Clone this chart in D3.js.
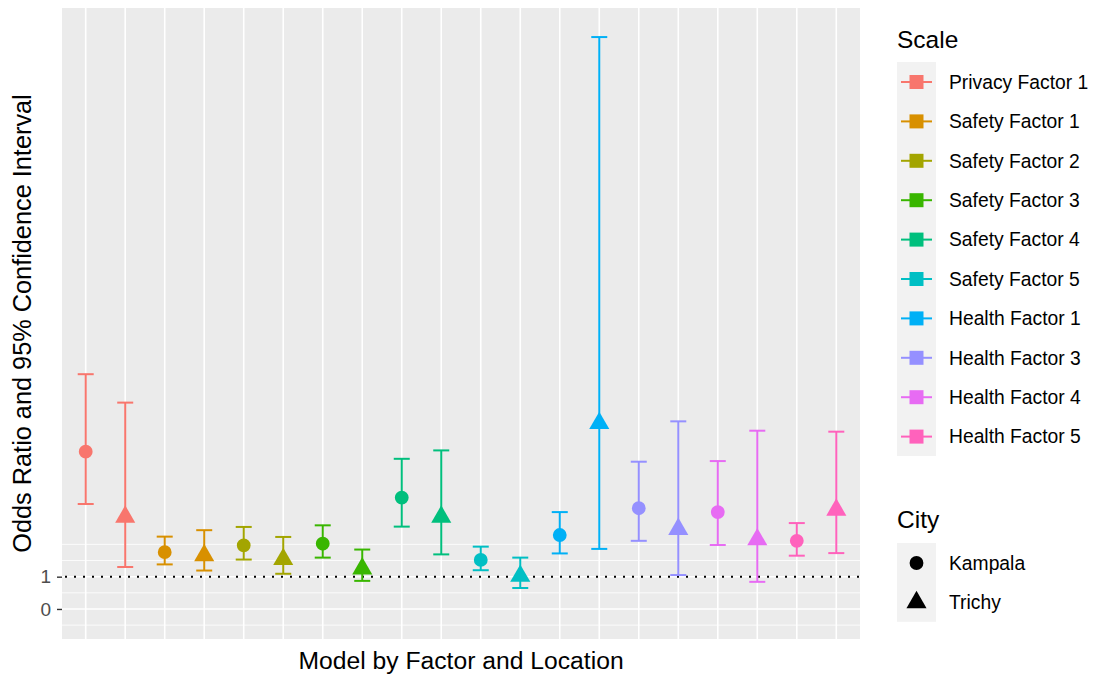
<!DOCTYPE html>
<html><head><meta charset="utf-8">
<script src="https://cdn.jsdelivr.net/npm/d3@7"></script>
<style>body{margin:0;background:#fff;} svg{display:block;font-family:"Liberation Sans",Arial,sans-serif;}</style>
</head><body>
<script>
const factors = ["Privacy Factor 1","Safety Factor 1","Safety Factor 2","Safety Factor 3","Safety Factor 4","Safety Factor 5","Health Factor 1","Health Factor 3","Health Factor 4","Health Factor 5"];
const colors = ["#F8766D","#D89000","#A3A500","#39B600","#00BF7D","#00BFC4","#00B0F6","#9590FF","#E76BF3","#FF62BC"];
const cities = ["Kampala","Trichy"];
const kampalaOR = [4.87,1.76,1.97,2.02,3.45,1.52,2.29,3.12,3.00,2.11];
const kampalaLo = [3.25,1.38,1.53,1.59,2.55,1.20,1.72,2.11,1.98,1.65];
const kampalaHi = [7.27,2.24,2.54,2.59,4.65,1.93,3.00,4.56,4.58,2.66];
const trichyOR  = [2.85,1.66,1.54,1.25,2.85,1.02,5.75,2.47,2.15,3.07];
const trichyLo  = [1.30,1.19,1.09,0.87,1.69,0.65,1.86,1.05,0.84,1.73];
const trichyHi  = [6.39,2.44,2.23,1.84,4.91,1.59,17.71,5.81,5.52,5.49];
const yTicks = [0,1];
const yMinor = [-0.5,0.5,1.5,2];
const yDomain = [-0.93,18.61];
const refLine = 1;

const rows = [];
factors.forEach((f,i)=>{
  rows.push({key:f+"|Kampala",factor:f,ci:i,city:"Kampala",or:kampalaOR[i],lo:kampalaLo[i],hi:kampalaHi[i]});
  rows.push({key:f+"|Trichy",factor:f,ci:i,city:"Trichy",or:trichyOR[i],lo:trichyLo[i],hi:trichyHi[i]});
});

const W=1093,H=677;
const P={l:62,r:860,t:8,b:639};
const svg=d3.select("body").append("svg").attr("width",W).attr("height",H);
svg.append("rect").attr("width",W).attr("height",H).attr("fill","#fff");

const x=d3.scalePoint().domain(rows.map(d=>d.key)).range([P.l,P.r]).padding(0.6);
const y=d3.scaleLinear().domain(yDomain).range([P.b,P.t]);
const color=d3.scaleOrdinal().domain(factors).range(colors);

svg.append("rect").attr("x",P.l).attr("y",P.t).attr("width",P.r-P.l).attr("height",P.b-P.t).attr("fill","#EBEBEB");
const g=svg.append("g");
g.selectAll(".ymin").data(yMinor).join("line").attr("x1",P.l).attr("x2",P.r).attr("y1",d=>y(d)).attr("y2",d=>y(d)).attr("stroke","#fff").attr("stroke-width",0.8);
g.selectAll(".ymaj").data(yTicks).join("line").attr("x1",P.l).attr("x2",P.r).attr("y1",d=>y(d)).attr("y2",d=>y(d)).attr("stroke","#fff").attr("stroke-width",1.6);
g.selectAll(".xmaj").data(rows).join("line").attr("x1",d=>x(d.key)).attr("x2",d=>x(d.key)).attr("y1",P.t).attr("y2",P.b).attr("stroke","#fff").attr("stroke-width",1.6);

// y axis
const yAxis=d3.axisLeft(y).tickValues(yTicks).tickSize(5).tickPadding(6).tickFormat(d3.format("d"));
const ya=svg.append("g").attr("transform",`translate(${P.l},0)`).call(yAxis);
ya.select(".domain").remove();
ya.selectAll("line").attr("stroke","#333").attr("stroke-width",1.4);
ya.selectAll("text").attr("fill","#4D4D4D").style("font-size","19px").style("font-family","'Liberation Sans',Arial,sans-serif");

// reference line
svg.append("line").attr("x1",P.l).attr("x2",P.r).attr("y1",y(refLine)).attr("y2",y(refLine))
  .attr("stroke","#000").attr("stroke-width",2).attr("stroke-dasharray","2,7").attr("stroke-dashoffset",-3);

// error bars
const cap=8;
const eb=svg.append("g").selectAll("g").data(rows).join("g").attr("stroke",d=>color(d.factor)).attr("stroke-width",2).attr("fill","none");
eb.append("line").attr("x1",d=>x(d.key)).attr("x2",d=>x(d.key)).attr("y1",d=>y(d.lo)).attr("y2",d=>y(d.hi));
eb.append("line").attr("x1",d=>x(d.key)-cap).attr("x2",d=>x(d.key)+cap).attr("y1",d=>y(d.lo)).attr("y2",d=>y(d.lo));
eb.append("line").attr("x1",d=>x(d.key)-cap).attr("x2",d=>x(d.key)+cap).attr("y1",d=>y(d.hi)).attr("y2",d=>y(d.hi));

// points
const triSize=175, circSize=150;
const shape=c=>c==="Kampala"?d3.symbol(d3.symbolCircle,circSize)():d3.symbol(d3.symbolTriangle,triSize)();
svg.append("g").selectAll("path").data(rows).join("path")
  .attr("transform",d=>`translate(${x(d.key)},${y(d.or)})`)
  .attr("d",d=>shape(d.city)).attr("fill",d=>color(d.factor));

// axis titles
svg.append("text").attr("x",(P.l+P.r)/2).attr("y",669).attr("text-anchor","middle").style("font-size","24.7px").attr("fill","#000").text("Model by Factor and Location");
svg.append("text").attr("transform",`translate(31,${(P.t+P.b)/2}) rotate(-90)`).attr("text-anchor","middle").style("font-size","25.3px").attr("fill","#000").text("Odds Ratio and 95% Confidence Interval");

// legend: Scale
const lx=897, ly0=82, step=39.4;
svg.append("text").attr("x",lx).attr("y",48).style("font-size","24.5px").attr("fill","#000").text("Scale");
svg.append("rect").attr("x",lx).attr("y",ly0-20).attr("width",39).attr("height",step*factors.length).attr("fill","#F2F2F2");
const lg=svg.append("g").selectAll("g").data(factors).join("g").attr("transform",(d,i)=>`translate(${lx},${ly0+i*step})`);
lg.append("line").attr("x1",4).attr("x2",35).attr("y1",0).attr("y2",0).attr("stroke",d=>color(d)).attr("stroke-width",2);
lg.append("rect").attr("x",19.5-7).attr("y",-7).attr("width",14).attr("height",14).attr("fill",d=>color(d));
lg.append("text").attr("x",52).attr("y",0).attr("dy","0.35em").style("font-size","19.3px").attr("fill","#000").text(d=>d);

// legend: City
const cy0=563;
svg.append("text").attr("x",lx).attr("y",528).style("font-size","24.5px").attr("fill","#000").text("City");
svg.append("rect").attr("x",lx).attr("y",cy0-20).attr("width",39).attr("height",step*2).attr("fill","#F2F2F2");
const cg=svg.append("g").selectAll("g").data(cities).join("g").attr("transform",(d,i)=>`translate(${lx},${cy0+i*step})`);
cg.append("path").attr("transform","translate(19.5,0)").attr("d",d=>shape(d)).attr("fill","#000");
cg.append("text").attr("x",52).attr("y",0).attr("dy","0.35em").style("font-size","19.3px").attr("fill","#000").text(d=>d);
</script>
</body></html>
